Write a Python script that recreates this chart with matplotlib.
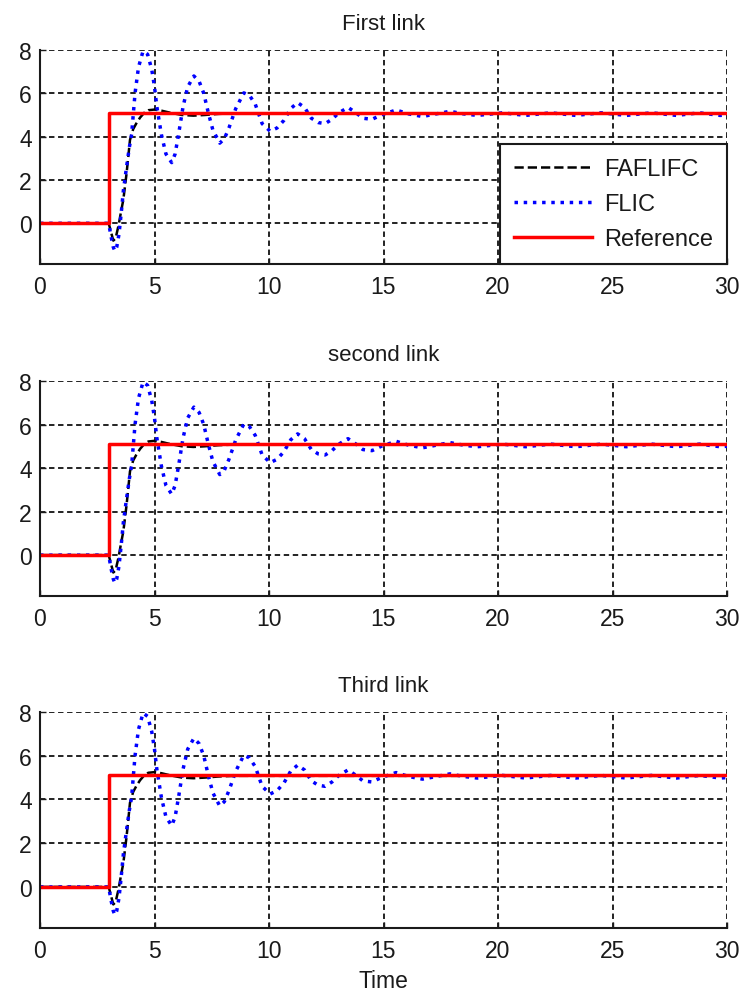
#!/usr/bin/env python3
"""
Step responses of the three links (FAFLIFC / FLIC / Reference)
"""
import matplotlib
matplotlib.use('Agg')
import matplotlib.pyplot as plt

plt.rcParams['font.family'] = ['Liberation Sans', 'DejaVu Sans']

# Reference step
t_ref = [0, 3, 3, 30]
y_ref = [0, 0, 5.1, 5.1]

# FAFLIFC response
t_fafl = [0, 3.0, 3.1, 3.2, 3.3, 3.43, 3.55, 3.64, 3.78, 3.93, 4.07, 4.2, 4.37,
          4.55, 4.73, 5.0, 5.3, 5.7, 6.2, 6.7, 7.2, 7.8, 8.5, 30]
y_fafl = [0, 0, -0.4, -0.8, -0.7, -0.1, 0.6, 1.1, 2.3, 3.85, 4.35, 4.6, 4.88,
          5.1, 5.22, 5.25, 5.2, 5.1, 5.0, 4.97, 5.0, 5.05, 5.08, 5.08]

# FLIC response
t_flic = [0, 3.0, 3.1, 3.2, 3.27, 3.35, 3.45, 3.55, 3.64, 3.78, 3.9, 4.0, 4.15,
          4.3, 4.5, 4.7, 4.88, 5.0, 5.1, 5.3, 5.5, 5.75, 5.9, 6.05, 6.25, 6.45,
          6.72, 6.95, 7.15, 7.35, 7.55, 7.85, 8.05, 8.25, 8.55, 8.9, 9.15, 9.4,
          9.7, 10.05, 10.35, 10.65, 10.95, 11.25, 11.55, 11.85, 12.15, 12.45,
          12.75, 13.05, 13.45, 13.8, 14.1, 14.5, 14.9, 15.55, 16.1, 16.7, 17.3,
          17.9, 18.5, 19.1, 20.2, 21.2, 22.3, 23.4, 24.5, 25.6, 26.7, 27.8,
          28.8, 29.7, 30]
y_flic = [0, 0, -0.6, -1.1, -1.28, -1.1, -0.5, 0.5, 1.5, 2.6, 3.5, 4.1, 6.0,
          7.2, 7.95, 7.8, 7.1, 6.3, 5.4, 4.1, 3.2, 2.8, 3.2, 4.1, 5.4, 6.3,
          6.8, 6.55, 6.0, 5.1, 4.3, 3.7, 3.9, 4.4, 5.3, 6.02, 5.9, 5.5,
          4.6, 4.25, 4.4, 4.75, 5.3, 5.57, 5.35, 4.85, 4.65, 4.6,
          4.8, 5.1, 5.35, 5.1, 4.85, 4.8, 5.0, 5.23, 5.05, 4.93, 5.05,
          5.17, 5.05, 4.98, 5.1, 4.98, 5.1, 4.98, 5.1, 4.98, 5.1, 4.98,
          5.1, 4.98, 5.0]

titles = ['First link', 'second link', 'Third link']
x_ticks = [0, 5, 10, 15, 20, 25, 30]
y_ticks = [0, 2, 4, 6, 8]

# axes boxes in pixels (left, top, bottom)
W, H = 741, 995
panels = [(40, 51, 265), (40, 382, 597), (40, 713, 929)]


def draw_panel(ax, title, with_legend):
    ax.plot(t_fafl, y_fafl, color='black', linestyle='--', linewidth=1.8, label='FAFLIFC')
    ax.plot(t_flic, y_flic, color='#0000ff', linestyle=':', linewidth=2.5, label='FLIC')
    ax.plot(t_ref, y_ref, color='#ff0000', linestyle='-', linewidth=2.5, label='Reference')

    ax.set_xlim(0, 30)
    ax.set_ylim(-1.88, 8)
    ax.set_xticks(x_ticks)
    ax.set_yticks(y_ticks)
    ax.grid(True, color='#111111', linestyle=(0, (3, 2)), linewidth=1.3)
    ax.set_axisbelow(True)
    ax.tick_params(direction='in', length=4, width=1, labelsize=16.5, colors='#1a1a1a')
    ax.tick_params(axis='y', pad=6)
    ax.tick_params(axis='x', pad=8)
    for side in ['top', 'right']:
        ax.spines[side].set_visible(False)
    for side in ['left', 'bottom']:
        ax.spines[side].set_linewidth(1.5)
        ax.spines[side].set_color('#1a1a1a')
    ax.set_title(title, fontsize=16, pad=15, color='#1a1a1a')

    if with_legend:
        leg = ax.legend(loc='lower right', bbox_to_anchor=(1.0, 0.0), borderaxespad=0,
                        fontsize=17, handlelength=3.3, handletextpad=0.5,
                        labelspacing=0.55, borderpad=0.6, fancybox=False,
                        framealpha=1, edgecolor='#1a1a1a')
        leg.get_frame().set_linewidth(1.5)
        for txt in leg.get_texts():
            txt.set_color('#1a1a1a')


def main():
    fig = plt.figure(figsize=(W / 100, H / 100), dpi=100, facecolor='white')
    for i, (left, top, bottom) in enumerate(panels):
        ax = fig.add_axes([left / W, 1 - bottom / H, 687 / W, (bottom - top) / H])
        draw_panel(ax, titles[i], i == 0)
        if i == 2:
            ax.set_xlabel('Time', fontsize=16.5, labelpad=5, color='#1a1a1a')
    fig.savefig('out.png', dpi=100, facecolor='white')
    plt.close(fig)


if __name__ == '__main__':
    main()
